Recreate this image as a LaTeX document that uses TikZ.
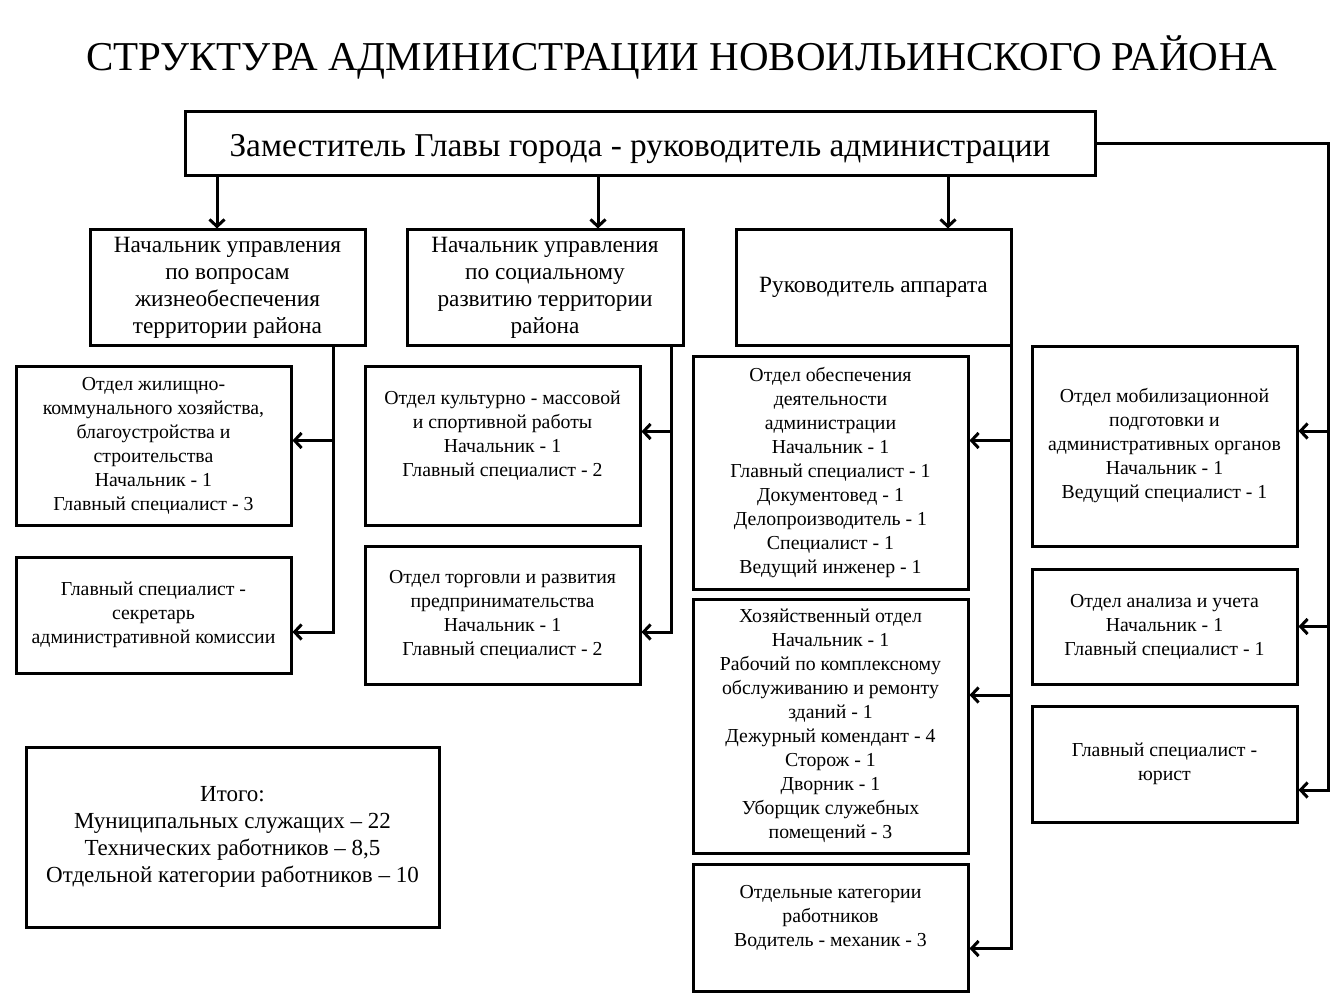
\documentclass[tikz,border=0pt]{standalone}
\usepackage{fontspec}
\setmainfont{Liberation Serif}
\usetikzlibrary{arrows.meta,calc}
\begin{document}
\begin{tikzpicture}[x=1pt,y=-1pt,
 box/.style={draw,line width=3pt,align=center,inner sep=0pt},
 sml/.style={font=\fontsize{19.8}{24}\selectfont},
 mid/.style={font=\fontsize{23.3}{27}\selectfont},
 arr/.style={line width=3pt,-{Straight Barb[length=7pt,width=15pt,line width=3pt]}},
 ln/.style={line width=3pt}]
\useasboundingbox[fill=white] (0,0) rectangle (1344,1008);
\node (title) at (682,57) {\fontsize{41}{46}\selectfont СТРУКТУРА АДМИНИСТРАЦИИ НОВОИЛЬИНСКОГО РАЙОНА};
\node[box,minimum width=910,minimum height=64,text height=25pt,text depth=0pt,font=\fontsize{33.3}{38}\selectfont] (top) at (640,144) {Заместитель Главы города - руководитель администрации};
\node[box,mid,minimum width=275,minimum height=115] (B1) at (227.5,287.5) {Начальник управления\\по вопросам\\жизнеобеспечения\\территории района};
\node[box,mid,minimum width=276,minimum height=115] (B2) at (545,287.5) {Начальник управления\\по социальному\\развитию территории\\района};
\node[box,mid,minimum width=275,minimum height=115] (B3) at (873.5,287.5) {Руководитель аппарата};
\node[box,sml,minimum width=275,minimum height=159] (L1) at (153.5,445.5) {Отдел жилищно-\\коммунального хозяйства,\\благоустройства и\\строительства\\Начальник - 1\\Главный специалист - 3};
\node[box,sml,minimum width=275,minimum height=116] (L2) at (153.5,615) {Главный специалист -\\секретарь\\административной комиссии};
\node[box,sml,minimum width=275,minimum height=159] (M1) at (502.5,445.5) {Отдел культурно - массовой\\и спортивной работы\\Начальник - 1\\Главный специалист - 2\\\mbox{}};
\node[box,sml,minimum width=275,minimum height=138] (M2) at (502.5,615) {Отдел торговли и развития\\предпринимательства\\Начальник - 1\\Главный специалист - 2};
\node[box,sml,minimum width=275,minimum height=233] (R1) at (830.5,472.5) {Отдел обеспечения\\деятельности\\администрации\\Начальник - 1\\Главный специалист - 1\\Документовед - 1\\Делопроизводитель - 1\\Специалист - 1\\Ведущий инженер - 1};
\node[box,sml,minimum width=275,minimum height=254] (R2) at (830.5,726) {Хозяйственный отдел\\Начальник - 1\\Рабочий по комплексному\\обслуживанию и ремонту\\зданий - 1\\Дежурный комендант - 4\\Сторож - 1\\Дворник - 1\\Уборщик служебных\\помещений - 3};
\node[box,sml,minimum width=275,minimum height=127] (R3) at (830.5,927.5) {Отдельные категории\\работников\\Водитель - механик - 3\\\mbox{}};
\node[box,sml,minimum width=265,minimum height=200] (F1) at (1164.5,446) {Отдел мобилизационной\\подготовки и\\административных органов\\Начальник - 1\\Ведущий специалист - 1};
\node[box,sml,minimum width=265,minimum height=115] (F2) at (1164.5,626.5) {Отдел анализа и учета\\Начальник - 1\\Главный специалист - 1};
\node[box,sml,minimum width=265,minimum height=116] (F3) at (1164.5,764) {Главный специалист -\\юрист};
\node[box,font=\fontsize{23}{27}\selectfont,minimum width=413,minimum height=180] (IT) at (232.5,837) {Итого:\\Муниципальных служащих – 22\\Технических работников – 8,5\\Отдельной категории работников – 10};
% top-level arrows
\coordinate (a1) at (217,0);
\coordinate (a2) at (598,0);
\coordinate (a3) at (948,0);
\draw[arr] (a1 |- top.south) -- (a1 |- B1.north);
\draw[arr] (a2 |- top.south) -- (a2 |- B2.north);
\draw[arr] (a3 |- top.south) -- (a3 |- B3.north);
% left branch
\coordinate (jL) at (333,0);
\draw[arr] (jL |- B1.south) |- ($(L2.east)+(0,17)$);
\draw[arr] ($(jL |- L1.east)+(0,-5)$) -- ($(L1.east)+(0,-5)$);
% middle branch
\coordinate (jM) at (671,0);
\draw[arr] (jM |- B2.south) |- ($(M2.east)+(0,17)$);
\draw[arr] ($(jM |- M1.east)+(0,-14)$) -- ($(M1.east)+(0,-14)$);
% right-centre branch
\coordinate (jC) at (1011,0);
\draw[arr] (jC |- B3.south) |- ($(R3.east)+(0,21)$);
\draw[arr] ($(jC |- R1.east)+(0,-32)$) -- ($(R1.east)+(0,-32)$);
\draw[arr] ($(jC |- R2.east)+(0,-31)$) -- ($(R2.east)+(0,-31)$);
% far right branch
\coordinate (jR) at (1328,0);
\draw[arr] (top.east) -| ($(jR |- F3.east)+(0,26)$) -- ($(F3.east)+(0,26)$);
\draw[arr] ($(jR |- F1.east)+(0,-15)$) -- ($(F1.east)+(0,-15)$);
\draw[arr] (jR |- F2.east) -- (F2.east);
\end{tikzpicture}
\end{document}
